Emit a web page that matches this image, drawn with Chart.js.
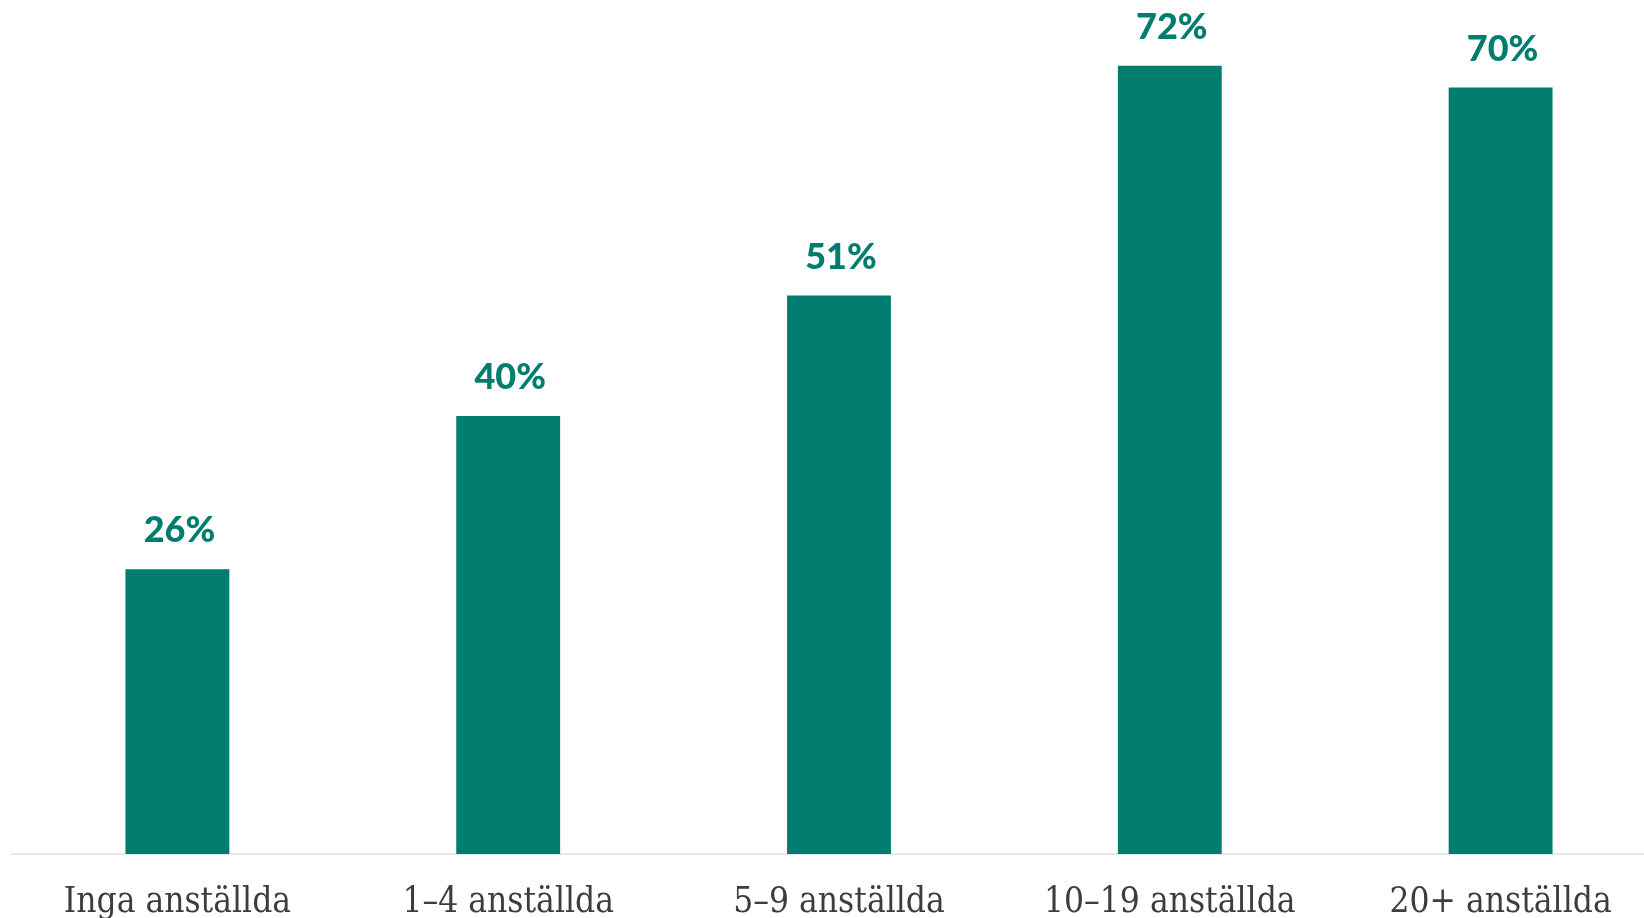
<!DOCTYPE html>
<html>
<head>
<meta charset="utf-8">
<script src="https://cdn.jsdelivr.net/npm/chart.js@4/dist/chart.umd.min.js"></script>
<style>
  html, body { margin: 0; padding: 0; background: #ffffff; overflow: hidden; }
  #wrap { position: absolute; left: 0; top: 0; width: 1670px; height: 918px; }
</style>
</head>
<body>
<div id="wrap"><canvas id="c"></canvas></div>
<script>
const categories = ["Inga anställda", "1–4 anställda", "5–9 anställda", "10–19 anställda", "20+ anställda"];
const values = [26, 40, 51, 72, 70];
const valueLabels = ["26%", "40%", "51%", "72%", "70%"];

const barColor = "#007D6E";

const valueLabelPlugin = {
  id: "valueLabels",
  afterDatasetsDraw(chart) {
    const ctx = chart.ctx;
    const meta = chart.getDatasetMeta(0);
    ctx.save();
    ctx.font = "900 36px Lato";
    ctx.fillStyle = barColor;
    ctx.textAlign = "center";
    ctx.textBaseline = "alphabetic";
    meta.data.forEach((bar, i) => {
      ctx.fillText(valueLabels[i], bar.x + 2, bar.y - 27);
    });
    ctx.restore();
  }
};

new Chart(document.getElementById("c"), {
  type: "bar",
  data: {
    labels: categories,
    datasets: [{
      data: values,
      backgroundColor: barColor,
      borderWidth: 0,
      barPercentage: 1,
      categoryPercentage: 0.314
    }]
  },
  options: {
    responsive: true,
    maintainAspectRatio: false,
    animation: false,
    layout: { padding: { left: 12, right: 4, top: 0, bottom: 0 } },
    plugins: { legend: { display: false }, tooltip: { enabled: false } },
    scales: {
      y: { display: false, min: 0, max: 78 },
      x: {
        grid: { display: false, drawTicks: false },
        border: { display: true, color: "#e8e8e8", width: 2 },
        ticks: {
          padding: 28,
          color: "#3d3d3d",
          font: { family: "'DejaVu Serif Condensed', 'DejaVu Serif', serif", size: 35, weight: "normal" }
        },
        afterFit(scale) { scale.height = 64; }
      }
    }
  },
  plugins: [valueLabelPlugin]
});
</script>
</body>
</html>
